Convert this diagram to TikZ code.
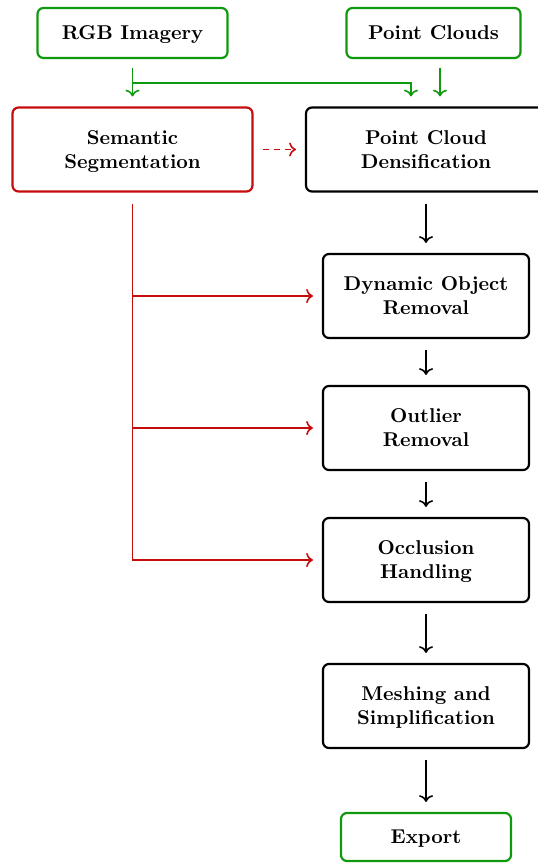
\documentclass[tikz,border=0pt]{standalone}
\usetikzlibrary{arrows.meta, positioning}

\begin{document}
\begin{tikzpicture}[
    x=0.5pt, y=0.5pt,
    every node/.style={font=\bfseries, align=center},
    stage/.style={
        minimum height=42pt,
        rounded corners=3pt,
        draw,
        line width=1.1pt,
        text depth=0pt,
    },
    flow/.style={->, thick, shorten <=5.5pt, shorten >=5pt},
    feed/.style={->, thick, draw=srcgreen, shorten <=4.5pt, shorten >=5pt},
    hint/.style={->, thick, draw=segred}
]

% Colors
\definecolor{srcgreen}{HTML}{0E990E}
\definecolor{segred}{HTML}{C40C0C}

% Box widths
\def\wSrcA{95pt}
\def\wSrcB{87pt}
\def\wWide{120pt}
\def\wStep{103pt}
\def\wOut{85pt}

\useasboundingbox (0,0) rectangle (537,-863);

% Inputs
\node[stage, draw=srcgreen, minimum width=\wSrcA, minimum height=25pt] (rgb) at (132.5,-33) {RGB Imagery};
\node[stage, draw=srcgreen, minimum width=\wSrcB, minimum height=25pt] (pcl) at (433.5,-33) {Point Clouds};

% Segmentation and densification
\node[stage, draw=segred, minimum width=\wWide] (seg) at (132.5,-149.5) {Semantic\\Segmentation};
\node[stage, minimum width=\wWide] (dens) at (426,-149.5) {Point Cloud\\Densification};

% Processing chain
\node[stage, minimum width=\wStep] (dyn) at (426,-296) {Dynamic Object\\Removal};
\node[stage, minimum width=\wStep] (outl) at (426,-428) {Outlier\\Removal};
\node[stage, minimum width=\wStep] (occ) at (426,-560) {Occlusion\\Handling};
\node[stage, minimum width=\wStep] (mesh) at (426,-706) {Meshing and\\Simplification};
\node[stage, draw=srcgreen, minimum width=\wOut, minimum height=24pt] (exp) at (426,-837) {Export};

% Input arrows
\coordinate (split) at ([yshift=-12pt]rgb.south);
\draw[feed] (rgb) -- (seg);
\draw[feed, shorten <=0pt] (split) -| ([xshift=-7.5pt]dens.north);
\draw[feed] ([xshift=7pt]dens.north |- pcl.south) -- ([xshift=7pt]dens.north);

% Segmentation hints
\draw[hint, dash pattern=on 3pt off 2.5pt, shorten <=4.5pt, shorten >=4.5pt] (seg) -- (dens);
\draw[hint, shorten <=5.5pt, shorten >=4.5pt] (seg.south) |- (occ.west);
\draw[hint, shorten >=4.5pt] (seg.south |- dyn.west) -- (dyn.west);
\draw[hint, shorten >=4.5pt] (seg.south |- outl.west) -- (outl.west);

% Main flow
\draw[flow] (dens) -- (dyn);
\draw[flow] (dyn) -- (outl);
\draw[flow] (outl) -- (occ);
\draw[flow] (occ) -- (mesh);
\draw[flow] (mesh) -- (exp);

\end{tikzpicture}
\end{document}
